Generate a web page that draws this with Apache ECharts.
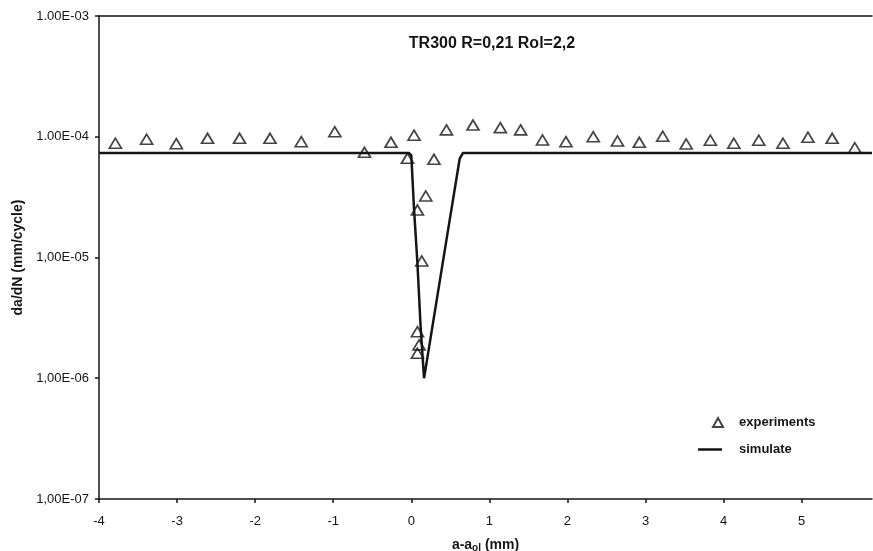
<!DOCTYPE html>
<html>
<head>
<meta charset="utf-8">
<script src="https://cdn.jsdelivr.net/npm/echarts@6/dist/echarts.min.js"></script>
<style>
html,body{margin:0;padding:0;background:#fff;}
#chart{width:873px;height:551px;}
</style>
</head>
<body>
<div id="chart"></div>
<script>
// ---- data ----
const expX = [-3.79,-3.39,-3.01,-2.61,-2.20,-1.81,-1.41,-0.98,-0.60,-0.26,-0.05,0.035,0.078,0.078,0.078,0.099,0.134,0.185,0.29,0.45,0.79,1.14,1.40,1.68,1.98,2.33,2.64,2.92,3.22,3.52,3.83,4.13,4.45,4.76,5.08,5.39,5.68];
const expY = [8.83e-5,9.53e-5,8.76e-5,9.71e-5,9.71e-5,9.71e-5,9.10e-5,1.10e-4,7.43e-5,8.99e-5,6.63e-5,1.03e-4,2.47e-5,2.43e-6,1.61e-6,1.89e-6,9.35e-6,3.23e-5,6.50e-5,1.14e-4,1.25e-4,1.19e-4,1.14e-4,9.40e-5,9.10e-5,1.00e-4,9.22e-5,8.99e-5,1.01e-4,8.71e-5,9.35e-5,8.83e-5,9.35e-5,8.83e-5,9.90e-5,9.71e-5,8.11e-5];
const simX = [-4,-0.03,0.0,0.035,0.078,0.12,0.163,0.45,0.62,0.66,5.9];
const simY = [7.33e-5,7.33e-5,7.0e-5,2.5e-5,9e-6,2.6e-6,1.0e-6,1.4e-5,6.6e-5,7.33e-5,7.33e-5];
const yTickLabels = ['1.00E-03','1.00E-04','1,00E-05','1,00E-06','1,00E-07'];
const seriesNames = ['experiments','simulate'];
const titleText = 'TR300 R=0,21 Rol=2,2';

const FONT = "'Liberation Sans', Arial, sans-serif";
const INK = '#151515';
const chart = echarts.init(document.getElementById('chart'));
const axisLineStyle = {color: INK, width: 1.5};

chart.setOption({
  animation: false,
  backgroundColor: '#fff',
  grid: {left: 99, right: 1, top: 16, bottom: 52, containLabel: false, outerBoundsMode: 'none'},
  graphic: [{
    type: 'text', x: 492, y: 44,
    style: {text: titleText, font: 'bold 16px ' + FONT, fill: INK, align: 'center', verticalAlign: 'middle'}
  }],
  legend: [{
    data: [{name: seriesNames[0], icon: 'triangle'}],
    orient: 'vertical', left: 707, top: 411,
    itemWidth: 10, itemHeight: 9,
    textStyle: {fontFamily: FONT, fontSize: 13, fontWeight: 'bold', color: INK, padding: [0,0,0,11]}
  },{
    data: [{name: seriesNames[1], icon: 'rect', itemStyle: {color: INK}}],
    orient: 'vertical', left: 693, top: 438,
    itemWidth: 24, itemHeight: 2.5,
    textStyle: {fontFamily: FONT, fontSize: 13, fontWeight: 'bold', color: INK, padding: [0,0,0,12]}
  }],
  xAxis: [{
    type: 'value', min: -4, max: 5.9, interval: 1,
    axisLine: {show: true, onZero: false, lineStyle: axisLineStyle},
    axisTick: {show: true, length: 4, lineStyle: axisLineStyle},
    splitLine: {show: false},
    axisLabel: {showMaxLabel: false, fontFamily: FONT, fontSize: 13, color: INK, margin: 16},
    name: '{n|a-a}{s|ol}{n| (mm)}',
    nameLocation: 'middle', nameGap: 38,
    nameTextStyle: {
      rich: {
        n: {fontFamily: FONT, fontSize: 14, fontWeight: 'bold', color: INK},
        s: {fontFamily: FONT, fontSize: 10, fontWeight: 'bold', color: INK, padding: [6,0,0,0]}
      }
    }
  },{
    type: 'value', position: 'top', min: -4, max: 5.9,
    axisLine: {show: true, onZero: false, lineStyle: axisLineStyle},
    axisTick: {show: false}, axisLabel: {show: false}, splitLine: {show: false}
  }],
  yAxis: {
    type: 'log', logBase: 10, min: 1e-7, max: 1e-3,
    axisLine: {show: true, onZero: false, lineStyle: axisLineStyle},
    axisTick: {show: true, length: 4, lineStyle: axisLineStyle},
    splitLine: {show: false},
    minorTick: {show: false},
    axisLabel: {
      fontFamily: FONT, fontSize: 13, color: INK, margin: 10,
      formatter: function (v) {
        const i = Math.round(-Math.log10(v)) - 3;
        return yTickLabels[i] !== undefined ? yTickLabels[i] : '';
      }
    },
    name: 'da/dN (mm/cycle)',
    nameLocation: 'middle', nameGap: 73,
    nameTextStyle: {fontFamily: FONT, fontSize: 14, fontWeight: 'bold', color: INK}
  },
  series: [{
    name: seriesNames[1], type: 'line', xAxisIndex: 0,
    data: simX.map((x, i) => [x, simY[i]]),
    symbol: 'none', lineStyle: {color: INK, width: 2.5}, itemStyle: {color: INK}, z: 2
  },{
    name: seriesNames[0], type: 'scatter', xAxisIndex: 0,
    data: expX.map((x, i) => [x, expY[i]]),
    symbol: 'triangle', symbolSize: [12, 10],
    itemStyle: {color: 'rgba(0,0,0,0)', borderColor: INK, borderWidth: 1.7}, z: 3
  }]
});
</script>
</body>
</html>
